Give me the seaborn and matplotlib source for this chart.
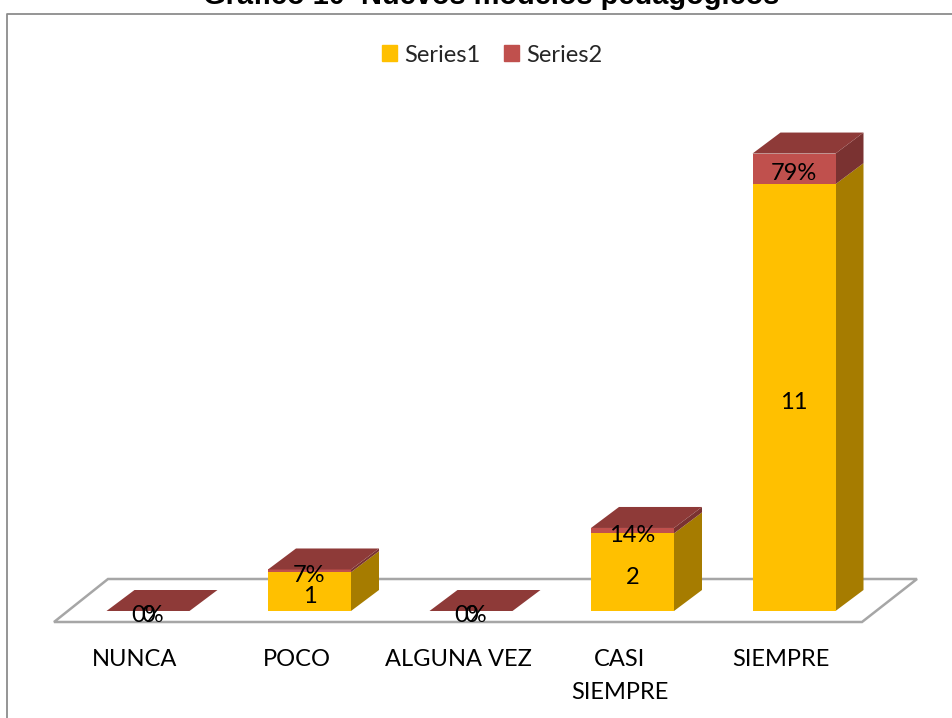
import matplotlib
matplotlib.use("Agg")
import matplotlib.pyplot as plt
import numpy as np
import pandas as pd
import seaborn as sns
from matplotlib.patches import Polygon, Rectangle

W, H = 952, 718

categories = ["NUNCA", "POCO", "ALGUNA VEZ", "CASI\nSIEMPRE", "SIEMPRE"]
series1 = [0, 1, 0, 2, 11]
series2 = [0, 0.07, 0, 0.14, 0.79]
labels1 = ["0", "1", "0", "2", "11"]
labels2 = ["0%", "7%", "0%", "14%", "79%"]

YELLOW = "#FFC000"
RED = "#C0504D"
RED_TOP = "#8E3A38"
RED_SIDE = "#7A3231"
YELLOW_SIDE = "#A67C00"
GREY = "#A6A6A6"

sns.set_style("white")
plt.rcParams["font.family"] = ["Lato", "DejaVu Sans"]

fig = plt.figure(figsize=(W / 100, H / 100), dpi=100)
ax = fig.add_axes([0, 0, 1, 1])

# pixel layout of the plot
x0_px, x_step = 148, 161.5
y0_px, y_step = 611, 38.8


def set_limits():
    ax.set_xlim(-x0_px / x_step, (W - x0_px) / x_step)
    ax.set_ylim(-(H - y0_px) / y_step, y0_px / y_step)
    ax.axis("off")


def px(x, y):
    return ((x - x0_px) / x_step, (y0_px - y) / y_step)


bar_w = 83 / x_step
dx = 28 / x_step
dy = 21 / y_step
label_shift = 5 / y_step

df = pd.DataFrame({"cat": categories, "s1": series1, "s2": series2})
df["pos"] = np.arange(len(df))
df["total"] = df["s1"] + df["s2"]

# outer frame: only left and top edges are inside the image
ax.add_line(plt.Line2D(*zip(px(7, H), px(7, 14), px(W, 14)), color="#8C8C8C", lw=1.3, zorder=1))

# floor
floor = [px(54, 622), px(862, 622), px(917, 579), px(108, 579)]
ax.add_patch(Polygon(floor, closed=True, fc="white", ec=GREY, lw=1.8, zorder=1))

# front faces, stacked
sns.barplot(data=df, x="pos", y="total", native_scale=True, color=RED, width=bar_w, saturation=1, linewidth=0, ax=ax, zorder=3)
sns.barplot(data=df, x="pos", y="s1", native_scale=True, color=YELLOW, width=bar_w, saturation=1, linewidth=0, ax=ax, zorder=4)
set_limits()

# depth faces
for i, row in df.iterrows():
    l, r = i - bar_w / 2, i + bar_w / 2
    s1, t = row["s1"], row["total"]
    ax.add_patch(Polygon([(r, 0), (r + dx, dy), (r + dx, s1 + dy), (r, s1)], fc=YELLOW_SIDE, ec="none", zorder=2.5))
    ax.add_patch(Polygon([(r, s1), (r + dx, s1 + dy), (r + dx, t + dy), (r, t)], fc=RED_SIDE, ec="none", zorder=2.5))
    ax.add_patch(Polygon([(l, t), (r, t), (r + dx, t + dy), (l + dx, t + dy)], fc=RED_TOP, ec="none", zorder=5))

    # data labels
    ax.text(i, s1 / 2 - label_shift, labels1[i], ha="center", va="center", fontsize=17, color="black", zorder=6)
    ax.text(i, s1 + row["s2"] / 2 - label_shift, labels2[i], ha="center", va="center", fontsize=17, color="black", zorder=6)

    # category labels sit a little left of their bars
    lx, ly = px(x0_px + i * x_step - 13, 649)
    ax.text(lx, ly, categories[i], ha="center", va="top", fontsize=17, color="black", linespacing=1.69, zorder=6)

# title, clipped by the top of the image
tx, ty = px(491, 4)
ax.text(tx, ty, "Gráfico 10  Nuevos modelos pedagógicos", ha="center", va="baseline", fontsize=20.9,
        fontweight="bold", family="Liberation Sans", color="black")

# legend
handles = [Rectangle((0, 0), 1, 1, color=YELLOW), Rectangle((0, 0), 1, 1, color=RED)]
ax.legend(handles, ["Series1", "Series2"], loc="center", bbox_to_anchor=(492 / W, 1 - 55 / H), ncol=2, frameon=False,
          fontsize=17, handlelength=0.64, handleheight=0.64, handletextpad=0.3, columnspacing=1.0)

fig.savefig("out.png", dpi=100)
